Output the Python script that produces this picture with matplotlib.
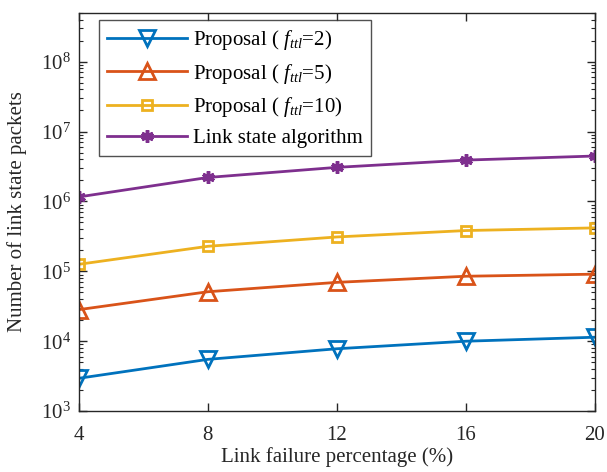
import matplotlib
matplotlib.use("Agg")
import matplotlib.pyplot as plt
from matplotlib.ticker import LogLocator, NullFormatter

plt.rcParams['font.family'] = ['Liberation Serif', 'DejaVu Serif']
plt.rcParams['mathtext.fontset'] = 'custom'
plt.rcParams['mathtext.rm'] = 'Liberation Serif'
plt.rcParams['mathtext.it'] = 'Liberation Serif:italic'
plt.rcParams['mathtext.bf'] = 'Liberation Serif:bold'

x_vals = [4, 8, 12, 16, 20]
ttl2 = [2.95e3, 5.5e3, 7.8e3, 1.0e4, 1.14e4]
ttl5 = [2.83e4, 5.1e4, 6.95e4, 8.5e4, 9.1e4]
ttl10 = [1.26e5, 2.28e5, 3.1e5, 3.83e5, 4.18e5]
link_state = [1.16e6, 2.2e6, 3.07e6, 3.9e6, 4.46e6]

labels = ["Proposal ( $f_{ttl}$=2)", "Proposal ( $f_{ttl}$=5)",
          "Proposal ( $f_{ttl}$=10)", "Link state algorithm"]
xticks = [4, 8, 12, 16, 20]

fig = plt.figure(figsize=(6.07, 4.72), dpi=100)
ax = fig.add_axes([0.130, 0.129, 0.850, 0.844])

c_blue = '#0072BD'
c_orange = '#D95319'
c_yellow = '#EDB120'
c_purple = '#7E2F8E'

ax.plot(x_vals, ttl2, color=c_blue, lw=2, marker='v', ms=11, mfc='none', mew=2, label=labels[0])
ax.plot(x_vals, ttl5, color=c_orange, lw=2, marker='^', ms=11, mfc='none', mew=2, label=labels[1])
ax.plot(x_vals, ttl10, color=c_yellow, lw=2, marker='s', ms=7, mfc='none', mew=2, label=labels[2])
ax.plot(x_vals, link_state, color=c_purple, lw=2, marker=(6, 2, 0), ms=9, mew=2.5, label=labels[3])

ax.set_yscale('log')
ax.set_xlim(4, 20)
ax.set_ylim(1e3, 5e8)
ax.set_xticks(xticks)
ax.set_xticklabels([str(v) for v in xticks])
ax.yaxis.set_major_locator(LogLocator(base=10, numticks=20))
ax.yaxis.set_minor_locator(LogLocator(base=10, subs=range(2, 10), numticks=20))
ax.yaxis.set_minor_formatter(NullFormatter())

ax.tick_params(which='both', direction='in', top=True, right=True, labelsize=15,
               color='#262626', labelcolor='#262626')
ax.tick_params(which='major', length=6, width=1)
ax.tick_params(which='minor', length=3, width=0.8)
ax.tick_params(axis='x', pad=11)
ax.tick_params(axis='y', pad=6)
for s in ax.spines.values():
    s.set_color('#262626')
    s.set_linewidth(1)

ax.set_xlabel('Link failure percentage (%)', fontsize=15, color='#262626', labelpad=1)
ax.set_ylabel('Number of link state packets', fontsize=15, color='#262626', labelpad=10)

leg = ax.legend(loc='upper left', bbox_to_anchor=(0.0388, 0.982), borderaxespad=0,
                fontsize=15, handlelength=3.85, frameon=True,
                fancybox=False, edgecolor='#262626',
                labelspacing=0.45, handletextpad=0.25, borderpad=0.4)
leg.get_frame().set_linewidth(1)

fig.savefig('out.png', dpi=100)
